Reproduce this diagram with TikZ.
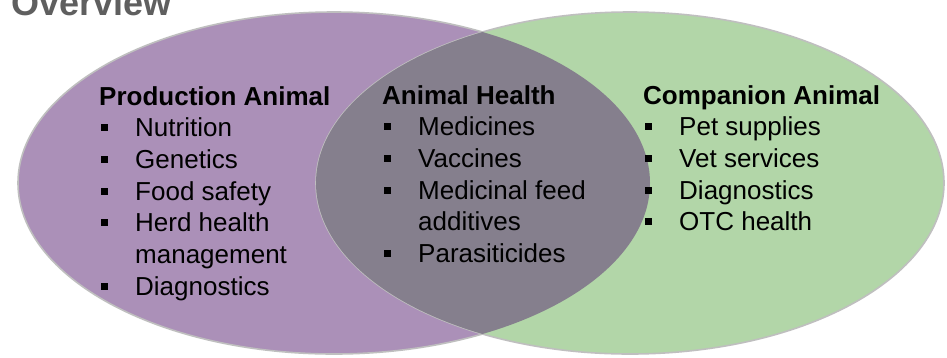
\documentclass[tikz,border=0pt]{standalone}
\usepackage{fontspec}
\setmainfont{Liberation Sans}
\definecolor{purp}{HTML}{AB90B8}
\definecolor{grn}{HTML}{B2D6A8}
\definecolor{lens}{HTML}{857F8D}
\definecolor{rim}{HTML}{BFBFBF}
\definecolor{ttl}{HTML}{5F5F5F}
\newcommand\bul{\makebox[36pt][l]{\hspace{1.5pt}\rule[5.5pt]{7pt}{7pt}}}
\newcommand\ind{\hspace*{36pt}}
\begin{document}
\begin{tikzpicture}[x=1pt,y=-1pt,
  col/.style={anchor=base west,inner sep=0pt,font=\fontsize{26}{31.7}\selectfont},
  rimline/.style={draw=rim,line width=1.6pt}]
\useasboundingbox (0,0) rectangle (947,357);
\fill[white] (0,0) rectangle (947,357);
\path[rimline,fill=purp] (334,183) ellipse [x radius=316,y radius=171];
\path[rimline,fill=grn] (630,183) ellipse [x radius=314,y radius=171];
\begin{scope}
  \clip (334,183) ellipse [x radius=316,y radius=171];
  \fill[lens] (630,183) ellipse [x radius=314,y radius=171];
\end{scope}
\node[anchor=base west,inner sep=0pt,text=ttl,font=\fontsize{36}{40}\selectfont\bfseries] (title) at (11,15) {Overview};
\node[col] (prod) at (99,105) {\parbox[t]{260pt}{\baselineskip=31.7pt\lineskiplimit=-20pt
  \textbf{Production Animal}\\
  \bul Nutrition\\
  \bul Genetics\\
  \bul Food safety\\
  \bul Herd health\\
  \ind management\\
  \bul Diagnostics}};
\node[col] (health) at (382,104) {\parbox[t]{260pt}{\baselineskip=31.7pt\lineskiplimit=-20pt
  \textbf{Animal Health}\\
  \bul Medicines\\
  \bul Vaccines\\
  \bul Medicinal feed\\
  \ind additives\\
  \bul Parasiticides}};
\node[col] (comp) at (643,104) {\parbox[t]{290pt}{\baselineskip=31.7pt\lineskiplimit=-20pt
  \textbf{Companion Animal}\\
  \bul Pet supplies\\
  \bul Vet services\\
  \bul Diagnostics\\
  \bul OTC health}};
\end{tikzpicture}
\end{document}
